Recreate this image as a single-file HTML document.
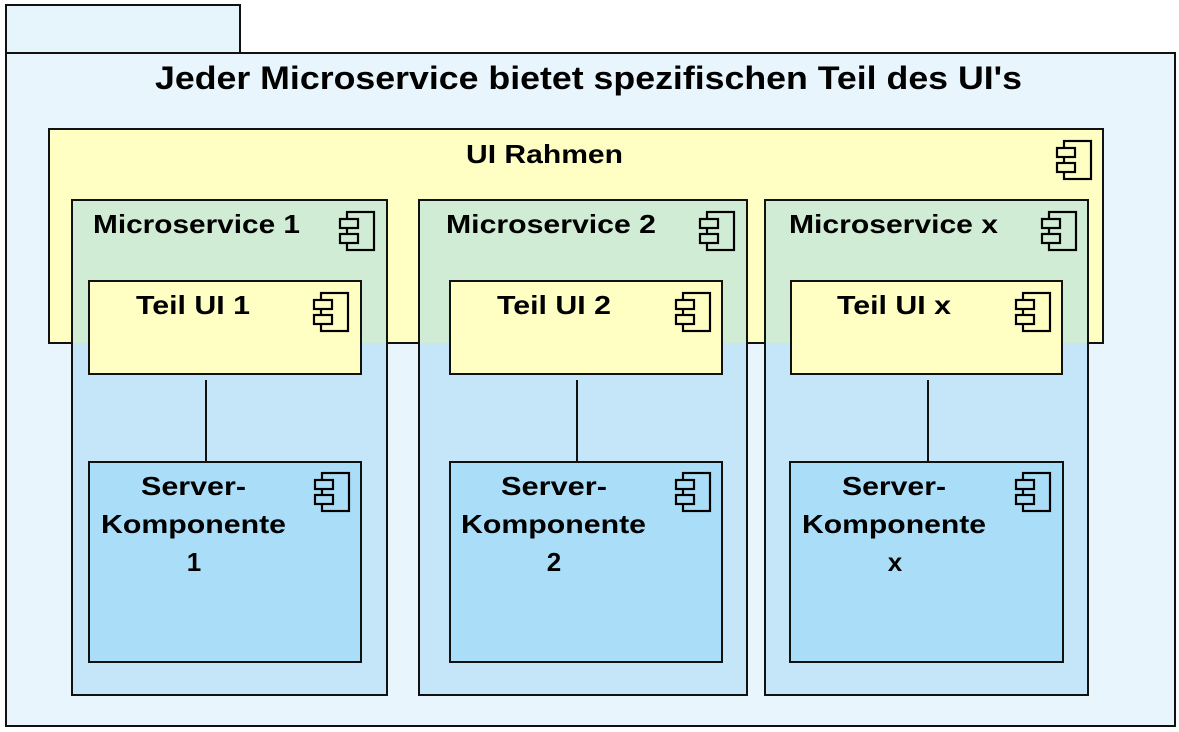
<!DOCTYPE html>
<html><head><meta charset="utf-8"><style>html,body{margin:0;padding:0;background:#fff}svg{display:block}text{font-family:"Liberation Sans",Arial,sans-serif;font-weight:bold;fill:#000}</style></head>
<body>
<svg width="1179" height="732" viewBox="0 0 1179 732" xmlns="http://www.w3.org/2000/svg">
<defs>
<g id="icf">
<rect x="7" y="0" width="27" height="38" fill="none" stroke="#000" stroke-width="2.2"/>
<rect x="0" y="7" width="18" height="9" fill="currentColor" stroke="#000" stroke-width="2.2"/>
<rect x="0" y="22" width="18" height="9" fill="currentColor" stroke="#000" stroke-width="2.2"/>
</g>
</defs>
<rect x="6" y="5" width="234" height="48" fill="#e6f4fc" stroke="#111" stroke-width="2"/>
<rect x="6" y="53" width="1169" height="673" fill="#e8f5fd" stroke="#111" stroke-width="2"/>
<text x="155" y="89" font-size="32" textLength="867" lengthAdjust="spacingAndGlyphs">Jeder Microservice bietet spezifischen Teil des UI's</text>

<rect x="49" y="129" width="1054" height="214" fill="#ffffc4" stroke="#111" stroke-width="2"/>
<text x="466" y="163" font-size="26" textLength="157" lengthAdjust="spacingAndGlyphs">UI Rahmen</text>
<use href="#icf" x="1057" y="141" style="color:#ffffc4"/>

<g>
<rect x="72" y="200" width="315" height="495" fill="#c4e6f8" stroke="#111" stroke-width="2"/>
<rect x="73" y="201" width="313" height="142" fill="#d0ecd4"/>
<text x="93" y="233" font-size="26" textLength="207" lengthAdjust="spacingAndGlyphs">Microservice 1</text>
<use href="#icf" x="340" y="212" style="color:#d0ecd4"/>
<rect x="89" y="281" width="272" height="93" fill="#ffffc4" stroke="#111" stroke-width="2"/>
<text x="136" y="314" font-size="26" textLength="114" lengthAdjust="spacingAndGlyphs">Teil UI 1</text>
<use href="#icf" x="314" y="293" style="color:#ffffc4"/>
<line x1="206" y1="380" x2="206" y2="461" stroke="#111" stroke-width="2"/>
<rect x="89" y="462" width="272" height="200" fill="#aadef8" stroke="#111" stroke-width="2"/>
<text x="141" y="495" font-size="26" textLength="105" lengthAdjust="spacingAndGlyphs">Server-</text>
<text x="101" y="533" font-size="26" textLength="185" lengthAdjust="spacingAndGlyphs">Komponente</text>
<text x="194" y="571" font-size="26" text-anchor="middle">1</text>
<use href="#icf" x="315" y="473" style="color:#aadef8"/>
</g>
<g>
<rect x="419" y="200" width="328" height="495" fill="#c4e6f8" stroke="#111" stroke-width="2"/>
<rect x="420" y="201" width="326" height="142" fill="#d0ecd4"/>
<text x="446" y="233" font-size="26" textLength="210" lengthAdjust="spacingAndGlyphs">Microservice 2</text>
<use href="#icf" x="700" y="212" style="color:#d0ecd4"/>
<rect x="450" y="281" width="272" height="93" fill="#ffffc4" stroke="#111" stroke-width="2"/>
<text x="497" y="314" font-size="26" textLength="114" lengthAdjust="spacingAndGlyphs">Teil UI 2</text>
<use href="#icf" x="676" y="293" style="color:#ffffc4"/>
<line x1="577" y1="380" x2="577" y2="461" stroke="#111" stroke-width="2"/>
<rect x="450" y="462" width="272" height="200" fill="#aadef8" stroke="#111" stroke-width="2"/>
<text x="501" y="495" font-size="26" textLength="106" lengthAdjust="spacingAndGlyphs">Server-</text>
<text x="461" y="533" font-size="26" textLength="185" lengthAdjust="spacingAndGlyphs">Komponente</text>
<text x="554" y="571" font-size="26" text-anchor="middle">2</text>
<use href="#icf" x="676" y="473" style="color:#aadef8"/>
</g>
<g>
<rect x="765" y="200" width="323" height="495" fill="#c4e6f8" stroke="#111" stroke-width="2"/>
<rect x="766" y="201" width="321" height="142" fill="#d0ecd4"/>
<text x="789" y="233" font-size="26" textLength="209" lengthAdjust="spacingAndGlyphs">Microservice x</text>
<use href="#icf" x="1042" y="212" style="color:#d0ecd4"/>
<rect x="791" y="281" width="271" height="93" fill="#ffffc4" stroke="#111" stroke-width="2"/>
<text x="837" y="314" font-size="26" textLength="114" lengthAdjust="spacingAndGlyphs">Teil UI x</text>
<use href="#icf" x="1016" y="293" style="color:#ffffc4"/>
<line x1="928" y1="380" x2="928" y2="461" stroke="#111" stroke-width="2"/>
<rect x="790" y="462" width="273" height="200" fill="#aadef8" stroke="#111" stroke-width="2"/>
<text x="842" y="495" font-size="26" textLength="104" lengthAdjust="spacingAndGlyphs">Server-</text>
<text x="802" y="533" font-size="26" textLength="184" lengthAdjust="spacingAndGlyphs">Komponente</text>
<text x="895" y="571" font-size="26" text-anchor="middle">x</text>
<use href="#icf" x="1016" y="473" style="color:#aadef8"/>
</g>
</svg>
</body></html>
